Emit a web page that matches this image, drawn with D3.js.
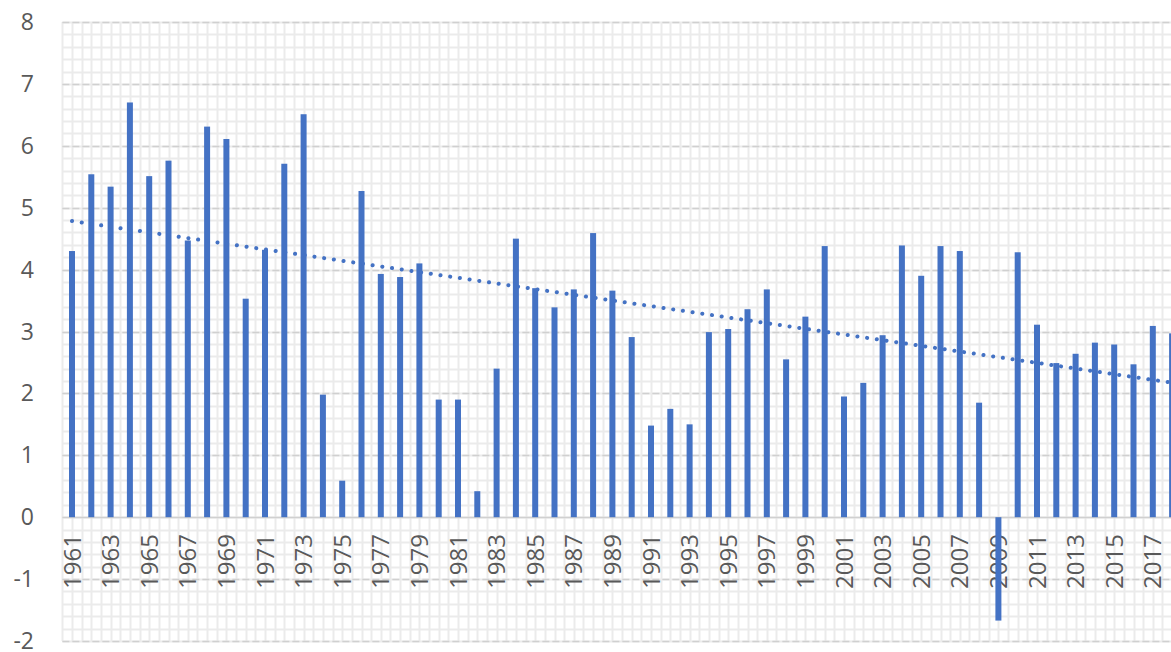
<!DOCTYPE html>
<html lang="en">
<head>
<meta charset="utf-8">
<title>Bar chart with trend line</title>
<script src="https://cdn.jsdelivr.net/npm/d3@7"></script>
<style>
  body { margin: 0; background: #fff; }
  svg { display: block; }
</style>
</head>
<body>
<script>
// data
var years = d3.range(1961, 2019);
var values = [4.30, 5.54, 5.34, 6.70, 5.51, 5.76, 4.47, 6.31, 6.11, 3.53,
              4.32, 5.71, 6.51, 1.98, 0.59, 5.27, 3.93, 3.88, 4.10, 1.90,
              1.90, 0.42, 2.40, 4.50, 3.70, 3.39, 3.68, 4.59, 3.66, 2.91,
              1.48, 1.75, 1.50, 2.99, 3.04, 3.36, 3.68, 2.55, 3.24, 4.38,
              1.95, 2.17, 2.94, 4.39, 3.90, 4.38, 4.30, 1.85, -1.67, 4.28,
              3.11, 2.49, 2.64, 2.82, 2.79, 2.47, 3.09, 2.97];
var yTicks = [-2, -1, 0, 1, 2, 3, 4, 5, 6, 7, 8];

var w = 1171, h = 652;
var plotLeft = 62.35, plotTop = 22, plotBottom = 641;
var step = 19.3;

var svg = d3.select("body").append("svg")
    .attr("width", w)
    .attr("height", h);

var xScale = d3.scaleBand()
    .domain(years)
    .range([plotLeft, plotLeft + step * years.length]);

var yScale = d3.scaleLinear()
    .domain([-2, 8])
    .range([plotBottom, plotTop]);

var plot = svg.append("g");
var plotRight = Math.min(w, plotLeft + step * years.length);

// minor grid
var minorY = d3.range(-2, 8.001, 0.2);
plot.selectAll("line.minory")
    .data(minorY)
    .enter()
    .append("line")
    .attr("class", "minory")
    .attr("x1", plotLeft).attr("x2", plotRight)
    .attr("y1", function(d) { return Math.round(yScale(d)) + 0.5; })
    .attr("y2", function(d) { return Math.round(yScale(d)) + 0.5; })
    .attr("stroke", "#ebebeb")
    .attr("stroke-width", 2);

var minorX = d3.range(0, years.length * 2 + 1);
plot.selectAll("line.minorx")
    .data(minorX)
    .enter()
    .append("line")
    .attr("class", "minorx")
    .attr("x1", function(d) { return Math.round(plotLeft + d * step / 2) + 0.5; })
    .attr("x2", function(d) { return Math.round(plotLeft + d * step / 2) + 0.5; })
    .attr("y1", plotTop).attr("y2", plotBottom)
    .attr("stroke", "#ebebeb")
    .attr("stroke-width", 2);

// major grid, dashed
plot.selectAll("line.major")
    .data(yTicks)
    .enter()
    .append("line")
    .attr("class", "major")
    .attr("x1", plotLeft).attr("x2", plotRight)
    .attr("y1", function(d) { return Math.round(yScale(d)) + 0.5; })
    .attr("y2", function(d) { return Math.round(yScale(d)) + 0.5; })
    .attr("stroke", "#d0d0d0")
    .attr("stroke-width", 1.5)
    .attr("stroke-dasharray", function(d) { return d === 0 ? null : "7 3"; });

// y axis labels (plain hyphen for negatives)
var yAxis = d3.axisLeft(yScale)
    .tickValues(yTicks)
    .tickSize(0)
    .tickPadding(0)
    .tickFormat(function(d) { return String(d); });

svg.append("g")
    .attr("transform", "translate(34,0)")
    .call(yAxis)
    .call(function(g) { g.select(".domain").remove(); })
    .selectAll("text")
    .attr("font-family", "'Open Sans', sans-serif")
    .attr("font-size", "23px")
    .attr("fill", "#595959")
    .attr("dy", "0.33em");

// x labels, every other year, rotated
svg.selectAll("text.year")
    .data(years.filter(function(d, i) { return i % 2 === 0; }))
    .enter()
    .append("text")
    .attr("class", "year")
    .attr("transform", function(d) {
        return "translate(" + (xScale(d) + xScale.bandwidth() / 2 + 8.5) + "," + 534 + ") rotate(-90)";
    })
    .attr("text-anchor", "end")
    .attr("font-family", "'Open Sans', sans-serif")
    .attr("font-size", "24px")
    .attr("fill", "#595959")
    .text(function(d) { return d; });

// bars
var barW = 6;
svg.selectAll("rect")
    .data(values)
    .enter()
    .append("rect")
    .attr("x", function(d, i) { return xScale(years[i]) + xScale.bandwidth() / 2 - barW / 2; })
    .attr("y", function(d) { return yScale(Math.max(0, d)); })
    .attr("width", barW)
    .attr("height", function(d) { return Math.abs(yScale(d) - yScale(0)); })
    .attr("fill", "#4472C4");

// linear trend (least squares over the bars)
var n = values.length;
var mx = d3.mean(d3.range(n)), my = d3.mean(values);
var sxy = d3.sum(values, function(d, i) { return (i - mx) * (d - my); });
var sxx = d3.sum(d3.range(n), function(i) { return (i - mx) * (i - mx); });
var slope = sxy / sxx, icept = my - slope * mx;

var trend = d3.line()
    .x(function(d) { return xScale(years[d]) + xScale.bandwidth() / 2; })
    .y(function(d) { return yScale(icept + slope * d); });

svg.append("path")
    .datum([0, n - 1])
    .attr("d", trend)
    .attr("fill", "none")
    .attr("stroke", "#4472C4")
    .attr("stroke-width", 4)
    .attr("stroke-linecap", "round")
    .attr("stroke-dasharray", "0.1 9.7");
</script>
</body>
</html>
